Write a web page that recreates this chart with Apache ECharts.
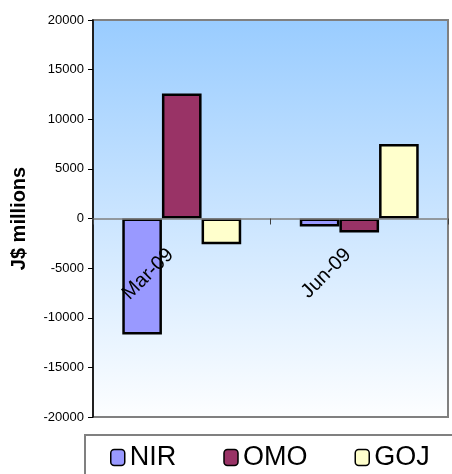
<!DOCTYPE html>
<html>
<head>
<meta charset="utf-8">
<script src="https://cdn.jsdelivr.net/npm/echarts@6/dist/echarts.min.js"></script>
<style>
  html, body { margin: 0; padding: 0; background: #ffffff; }
  #chart { width: 452px; height: 474px; }
</style>
</head>
<body>
<div id="chart"></div>
<script>
// Quarterly flows, J$ millions
const categories = ['Mar-09', 'Jun-09'];
const nirValues = [-11700, -800];
const omoValues = [12600, -1400];
const gojValues = [-2600, 7500];
const seriesNames = ['NIR', 'OMO', 'GOJ'];
const seriesColors = ['#9999FF', '#993366', '#FFFFCC'];
const yTicks = { min: -20000, max: 20000, step: 5000 };

const font = '"Liberation Sans", Arial, sans-serif';
const chart = echarts.init(document.getElementById('chart'), null, { renderer: 'canvas' });

const seriesData = [nirValues, omoValues, gojValues];

// plot box in pixels
const gridTop = 20, gridBottom = 57;
const plotHeight = 474 - gridTop - gridBottom;
// shift the category axis (line, ticks, labels) up to the value 0
const zeroOffset = -plotHeight * (0 - yTicks.min) / (yTicks.max - yTicks.min);

chart.setOption({
  animation: false,
  textStyle: { fontFamily: font },
  grid: {
    left: 93, top: gridTop, right: 4, bottom: gridBottom,
    outerBoundsMode: 'none',
    containLabel: false,
    show: true,
    borderColor: '#808080',
    borderWidth: 2,
    backgroundColor: new echarts.graphic.LinearGradient(0, 0, 0, 1, [
      { offset: 0, color: '#99CCFF' },
      { offset: 1, color: '#FDFEFF' }
    ])
  },
  legend: {
    data: seriesNames,
    left: 85, top: 435,
    width: 420,
    orient: 'horizontal',
    itemWidth: 14, itemHeight: 16,
    itemGap: 47,
    padding: [9, 80, 40, 25],
    borderColor: '#808080',
    borderWidth: 2,
    textStyle: { fontFamily: font, fontSize: 27, color: '#000' },
    itemStyle: { borderColor: '#000', borderWidth: 1.5 }
  },
  xAxis: {
    type: 'category',
    data: categories,
    position: 'bottom',
    offset: zeroOffset,
    z: 10,
    axisLine: { onZero: false, lineStyle: { color: '#808080', width: 1.5 } },
    axisTick: { show: true, length: 6, lineStyle: { color: '#404040', width: 1 } },
    axisLabel: { rotate: 45, margin: 22, fontSize: 20, color: '#000', fontFamily: font,
      padding: [0, 16, 0, 0] },
    splitLine: { show: false }
  },
  yAxis: {
    type: 'value',
    min: yTicks.min, max: yTicks.max, interval: yTicks.step,
    name: 'J$ millions',
    nameLocation: 'middle',
    nameRotate: 90,
    nameGap: 64,
    nameTextStyle: { fontSize: 20, fontWeight: 'bold', color: '#000', fontFamily: font },
    axisLine: { show: true, lineStyle: { color: '#000', width: 1.5 } },
    axisTick: { show: true, length: 5, lineStyle: { color: '#000' } },
    axisLabel: { fontSize: 13, color: '#000', margin: 9, fontFamily: font,
      formatter: (v) => String(v) },
    splitLine: { show: false }
  },
  series: seriesNames.map((name, i) => ({
    name: name,
    type: 'bar',
    data: seriesData[i],
    barGap: '0%',
    barCategoryGap: '33%',
    itemStyle: { color: seriesColors[i], borderColor: '#000', borderWidth: 2.5 }
  }))
});
</script>
</body>
</html>
